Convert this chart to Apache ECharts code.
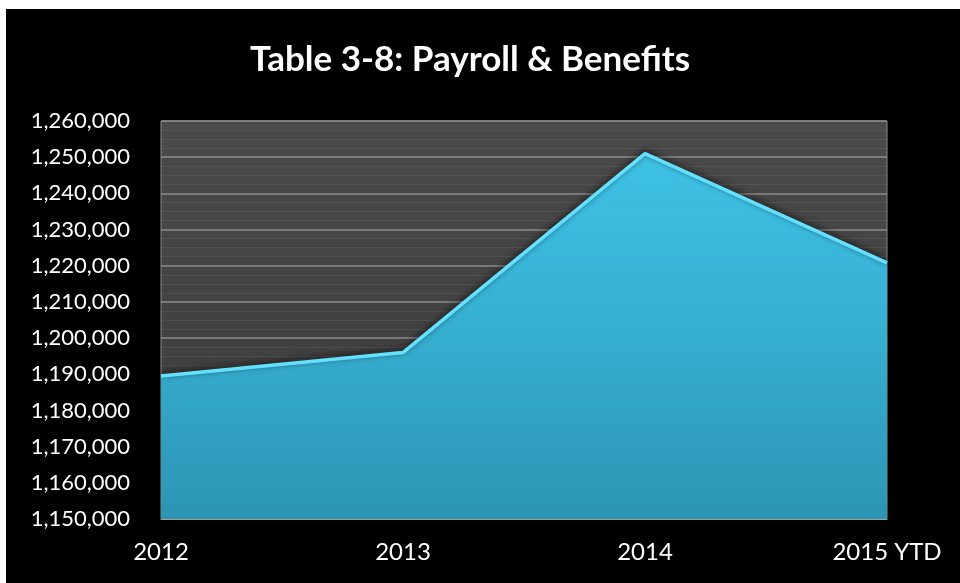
<!DOCTYPE html>
<html>
<head>
<meta charset="utf-8">
<script src="https://cdn.jsdelivr.net/npm/echarts@6/dist/echarts.min.js"></script>
<style>
  html, body { margin: 0; padding: 0; background: #ffffff; width: 960px; height: 583px; overflow: hidden; }
  #chart { position: absolute; left: 6px; top: 9px; width: 954px; height: 574px; }
</style>
</head>
<body>
<div id="chart"></div>
<script>
// Payroll & benefits totals by year
const years = ['2012', '2013', '2014', '2015 YTD'];
const payroll = [1189500, 1196000, 1251000, 1220800];
const yMin = 1150000;
const yMax = 1260000;
const yStep = 10000;

const chart = echarts.init(document.getElementById('chart'), null, { renderer: 'canvas' });

const fmt = v => v.toLocaleString('en-US');

chart.setOption({
  backgroundColor: '#000000',
  animation: false,
  title: {
    text: 'Table 3-8: Payroll & Benefits',
    left: 239,
    top: 28,
    textStyle: {
      color: '#ffffff',
      fontFamily: 'Lato',
      fontWeight: 'bold',
      fontSize: 35
    }
  },
  grid: {
    left: 155,
    right: 73,
    top: 112,
    bottom: 64,
    show: true,
    borderColor: '#8a8a8a',
    borderWidth: 1,
    backgroundColor: new echarts.graphic.LinearGradient(0, 0, 0, 1, [
      { offset: 0, color: '#4a4a4a' },
      { offset: 1, color: '#3a3a3a' }
    ])
  },
  xAxis: {
    type: 'category',
    data: years,
    boundaryGap: false,
    axisLine: { show: true, lineStyle: { color: '#a0a0a0', width: 1 } },
    axisTick: { show: false },
    axisLabel: {
      color: '#ffffff',
      fontFamily: 'Lato',
      fontSize: 24,
      margin: 21
    },
    splitLine: { show: false }
  },
  yAxis: {
    type: 'value',
    min: yMin,
    max: yMax,
    interval: yStep,
    axisLine: { show: false },
    axisTick: { show: false },
    axisLabel: {
      color: '#ffffff',
      fontFamily: 'Lato',
      fontSize: 22,
      margin: 31,
      formatter: fmt
    },
    splitLine: { show: true, lineStyle: { color: '#8c8c8c', width: 1.5 } },
    minorTick: { show: false, splitNumber: 4 },
    minorSplitLine: { show: true, lineStyle: { color: 'rgba(255,255,255,0.07)', width: 1 } }
  },
  series: [{
    type: 'line',
    data: payroll,
    symbol: 'none',
    lineStyle: {
      color: '#66e0ff',
      width: 3.5,
      shadowColor: 'rgba(0,0,0,0.7)',
      shadowBlur: 6,
      shadowOffsetY: -2
    },
    areaStyle: {
      opacity: 1,
      color: new echarts.graphic.LinearGradient(0, 0, 0, 1, [
        { offset: 0, color: '#3ec2e6' },
        { offset: 0.5, color: '#36aed0' },
        { offset: 1, color: '#2c94b4' }
      ])
    },
    z: 3
  }]
});
</script>
</body>
</html>
